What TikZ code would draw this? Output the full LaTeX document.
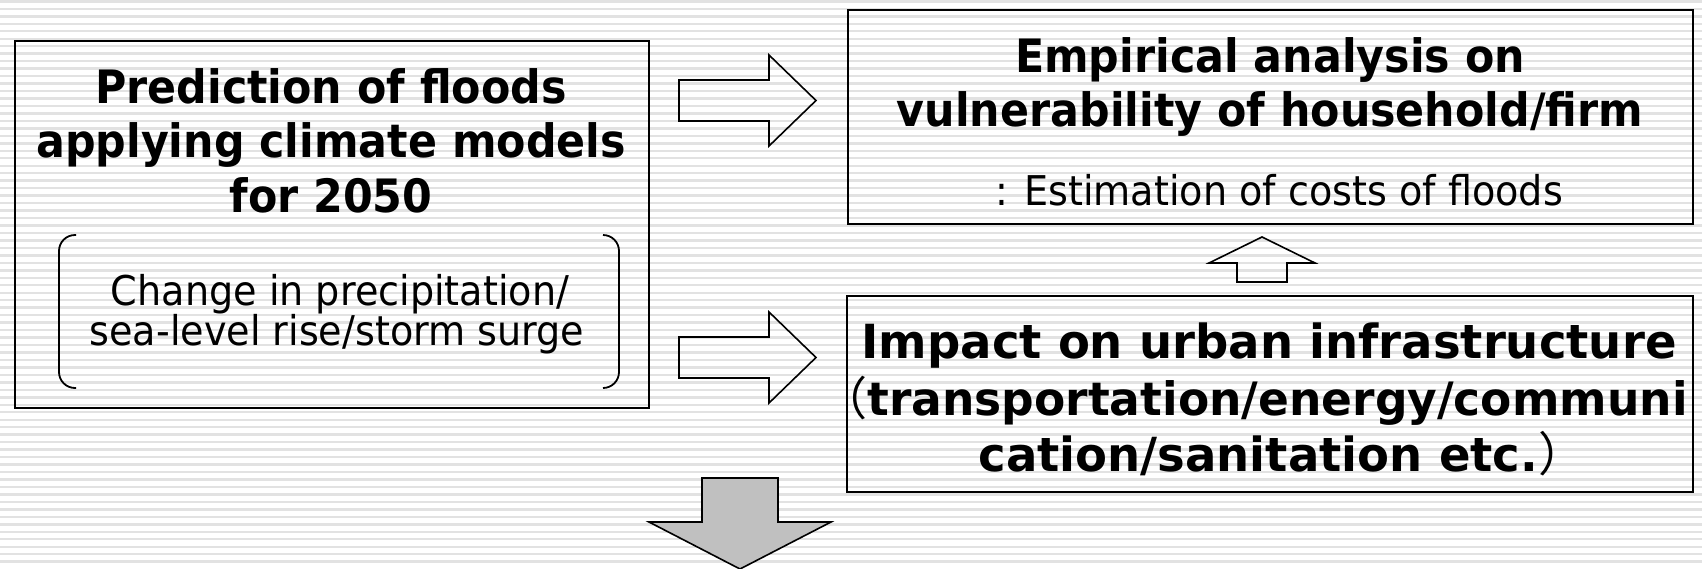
\documentclass[tikz,border=0pt]{standalone}
\usepackage{fontspec}
\newfontfamily\dv[FakeStretch=0.93]{DejaVu Sans}
\newfontfamily\dvw[FakeStretch=0.99]{DejaVu Sans}
\newfontfamily\cjk{Noto Sans CJK JP}
\definecolor{stripe}{HTML}{E2E2E2}
\definecolor{arrowgray}{HTML}{C0C0C0}
\begin{document}
\begin{tikzpicture}[x=1pt,y=-1pt,line width=1.6pt,
  box/.style={draw=black,rectangle,inner sep=0pt,anchor=north west},
  bold/.style={anchor=base,inner sep=0pt,font=\dv\bfseries\fontsize{46}{50}\selectfont},
  boldw/.style={anchor=base,inner sep=0pt,font=\dvw\bfseries\fontsize{47}{50}\selectfont},
  boldn/.style={anchor=base,inner sep=0pt,font=\dvw\bfseries\fontsize{46}{50}\selectfont},
  reg/.style={anchor=base,inner sep=0pt,font=\dv\fontsize{41}{44}\selectfont},
  blockarrow/.style={draw=black,line join=miter,fill=none},
  bracket/.style={draw=black,line width=1.8pt,rounded corners=16pt}]
\useasboundingbox (0,0) rectangle (1702,568);
\fill[white] (0,0) rectangle (1702,568);
\foreach \k in {0,...,75}
  \fill[stripe] (0,{0.2+7.47*\k}) rectangle (1702,{2.6+7.47*\k});

% boxes
\node[box,minimum width=634pt,minimum height=367pt] (pred) at (14,40) {};
\node[box,minimum width=845pt,minimum height=214pt] (emp) at (847,9) {};
\node[box,minimum width=846pt,minimum height=196pt] (imp) at (846,295) {};

% left box text
\node[bold] (p1) at (331,103) {Prediction of floods};
\node[bold] (p2) at (331,157) {applying climate models};
\node[bold] (p3) at (331,212) {for 2050};
\node[reg] (c1) at (340,305) {Change in precipitation/};
\node[reg] (c2) at (337,345) {sea-level rise/storm surge};
\draw[bracket] (76,235) -- (59,235) -- (59,388) -- (76,388);
\draw[bracket] (603,235) -- (619,235) -- (619,388) -- (603,388);

% top right text
\node[bold] (e1) at (1270,72) {Empirical analysis on};
\node[bold] (e2) at (1270,126) {vulnerability of household/firm};
\node[reg] (e3) at (1279,205) {: Estimation of costs of floods};

% bottom right text
\node[boldw] (i1) at (1269,358) {Impact on urban infrastructure};
\node[boldn] (i2) at (1266,415) {{\cjk\mdseries\kern-0.5em （}transportation/energy/communi};
\node[boldw] (i3) at (1270,471) {cation/sanitation etc.{\cjk\mdseries ）\kern-0.5em}};

% block arrows
\coordinate (a1) at (679,100.5);
\draw[blockarrow] (679,80) -- (769,80) -- (769,55) -- (816,100.5) -- (769,146) -- (769,121) -- (679,121) -- cycle;
\coordinate (a2) at (679,357.5);
\draw[blockarrow] (679,337) -- (769,337) -- (769,312) -- (816,357.5) -- (769,403) -- (769,378) -- (679,378) -- cycle;
\draw[blockarrow] (1237,282) -- (1237,263) -- (1209,263) -- (1262,237) -- (1315,263) -- (1287,263) -- (1287,282) -- cycle;
\draw[blockarrow,fill=arrowgray] (702,478) -- (778,478) -- (778,522) -- (831,522) -- (740,569) -- (649,522) -- (702,522) -- cycle;
\end{tikzpicture}
\end{document}
